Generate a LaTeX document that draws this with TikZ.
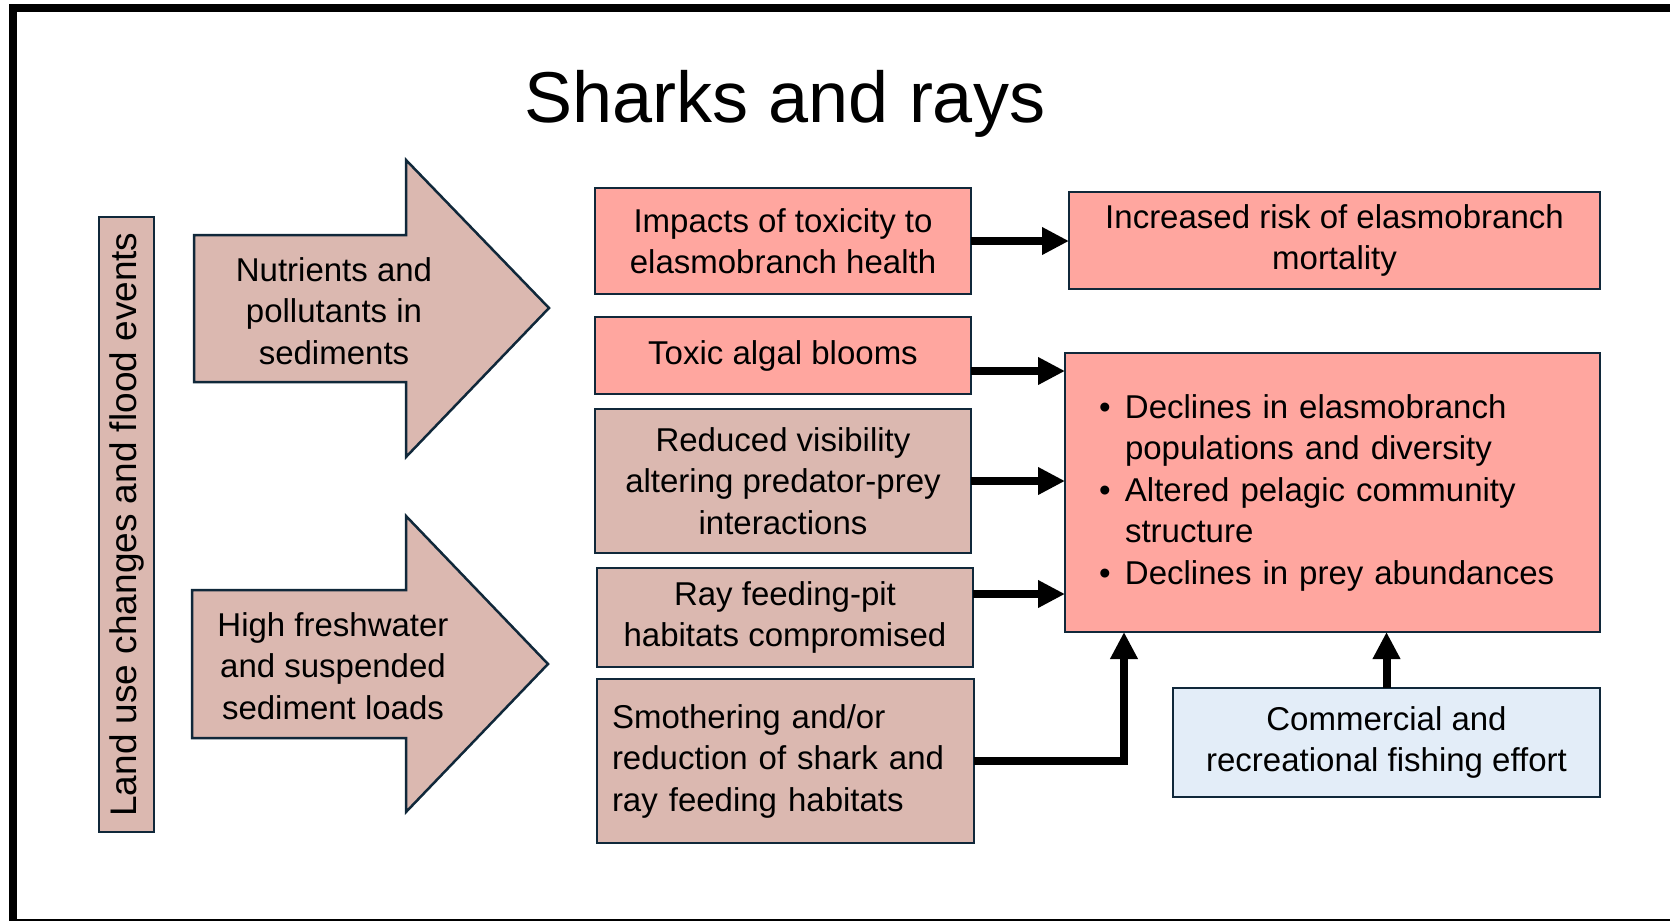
\documentclass[tikz,border=0pt]{standalone}
\usepackage{fontspec}
\setmainfont{Liberation Sans}
\usetikzlibrary{arrows.meta, positioning, calc}

\definecolor{edgeblue}{HTML}{10283A}
\definecolor{tanfill}{HTML}{DBB8B0}
\definecolor{salmon}{HTML}{FFA69F}
\definecolor{paleblue}{HTML}{E3EDF8}

\begin{document}
\begin{tikzpicture}[
  x = 1pt, y = -1pt,
  font = \fontsize{33}{41.5}\selectfont,
  box/.style = {rectangle, draw=edgeblue, line width=2.5pt, align=center,
                inner sep=0pt, outer sep=0pt},
  effect/.style = {box, fill=tanfill},
  hazard/.style = {box, fill=salmon},
  fishing/.style = {box, fill=paleblue},
  bigarrow/.style = {draw=edgeblue, line width=2.5pt, fill=tanfill, line join=miter},
  arrow/.style = {-{Triangle[length=27pt,width=26pt]}, line width=8pt, line join=miter},
]
\useasboundingbox (0,0) rectangle (1670,921);
\draw[line width=8pt, line join=miter] (1670,8) -- (13,8) -- (13,921);
\draw[line width=1.5pt] (13,920) -- (1670,920);

\node[font=\fontsize{72}{80}\selectfont, anchor=base] (title) at (785,122) {Sharks and rays};

% driver column
\node[effect, line width=1.5pt, rotate=90, minimum width=615pt, minimum height=55pt,
      font=\fontsize{37}{40}\selectfont] (land) at (126.5,524.5) {Land use changes and flood events};

\draw[bigarrow] (194,235) -- (406,235) -- (406,160) -- (549,308) -- (406,457)
  -- (406,382) -- (194,382) -- cycle;
\node (nutr) at (334,311) [align=center] {Nutrients and\\pollutants in\\sediments};
\draw[bigarrow] (192,590) -- (406,590) -- (406,516) -- (548,664) -- (406,812)
  -- (406,738) -- (192,738) -- cycle;
\node (fresh) at (333,666) [align=center] {High freshwater\\and suspended\\sediment loads};

% pressures
\node[hazard, minimum width=376pt, minimum height=106pt] (imp) at (783,241) {Impacts of toxicity to\\elasmobranch health};
\node[hazard, minimum width=376pt, minimum height=77pt] (tox) at (783,355.5) {Toxic algal blooms};
\node[effect, minimum width=376pt, minimum height=144pt] (red) at (783,481) {Reduced visibility\\altering predator-prey\\interactions};
\node[effect, minimum width=376pt, minimum height=99pt] (ray) at (785,617.5) {Ray feeding-pit\\habitats compromised};
\node[effect, text width=347pt, inner xsep=15pt, minimum height=164pt, align=left] (smo) at (785.5,761) {Smothering and/or\\reduction of shark and\\ray feeding habitats};

% outcomes
\node[hazard, minimum width=531pt, minimum height=97pt] (inc) at (1334.5,240.5) {Increased risk of elasmobranch\\mortality};
\node[hazard, text width=467pt, inner xsep=34pt, minimum height=279pt, align=left] (big) at (1332.5,492.5)
  {\makebox[26pt][l]{\textbullet}Declines in elasmobranch\\\hspace*{26pt}populations and diversity\\
   \makebox[26pt][l]{\textbullet}Altered pelagic community\\\hspace*{26pt}structure\\
   \makebox[26pt][l]{\textbullet}Declines in prey abundances};
\node[fishing, minimum width=427pt, minimum height=109pt] (com) at (1386.5,742.5) {Commercial and\\recreational fishing effort};

\coordinate (toxout) at ($(tox.east)+(0,15.5)$);
\coordinate (rayout) at ($(ray.east)+(0,-23.5)$);
\coordinate (smoin) at ($(big.south west)+(59,0)$);

\draw[arrow] (imp.east) -- (imp.east -| inc.west);
\draw[arrow] (toxout) -- (toxout -| big.west);
\draw[arrow] (red.east) -- (red.east -| big.west);
\draw[arrow] (rayout) -- (rayout -| big.west);
\draw[arrow] (smo.east) -| (smoin);
\draw[arrow] (com.north) -- (com.north |- big.south);
\end{tikzpicture}
\end{document}
